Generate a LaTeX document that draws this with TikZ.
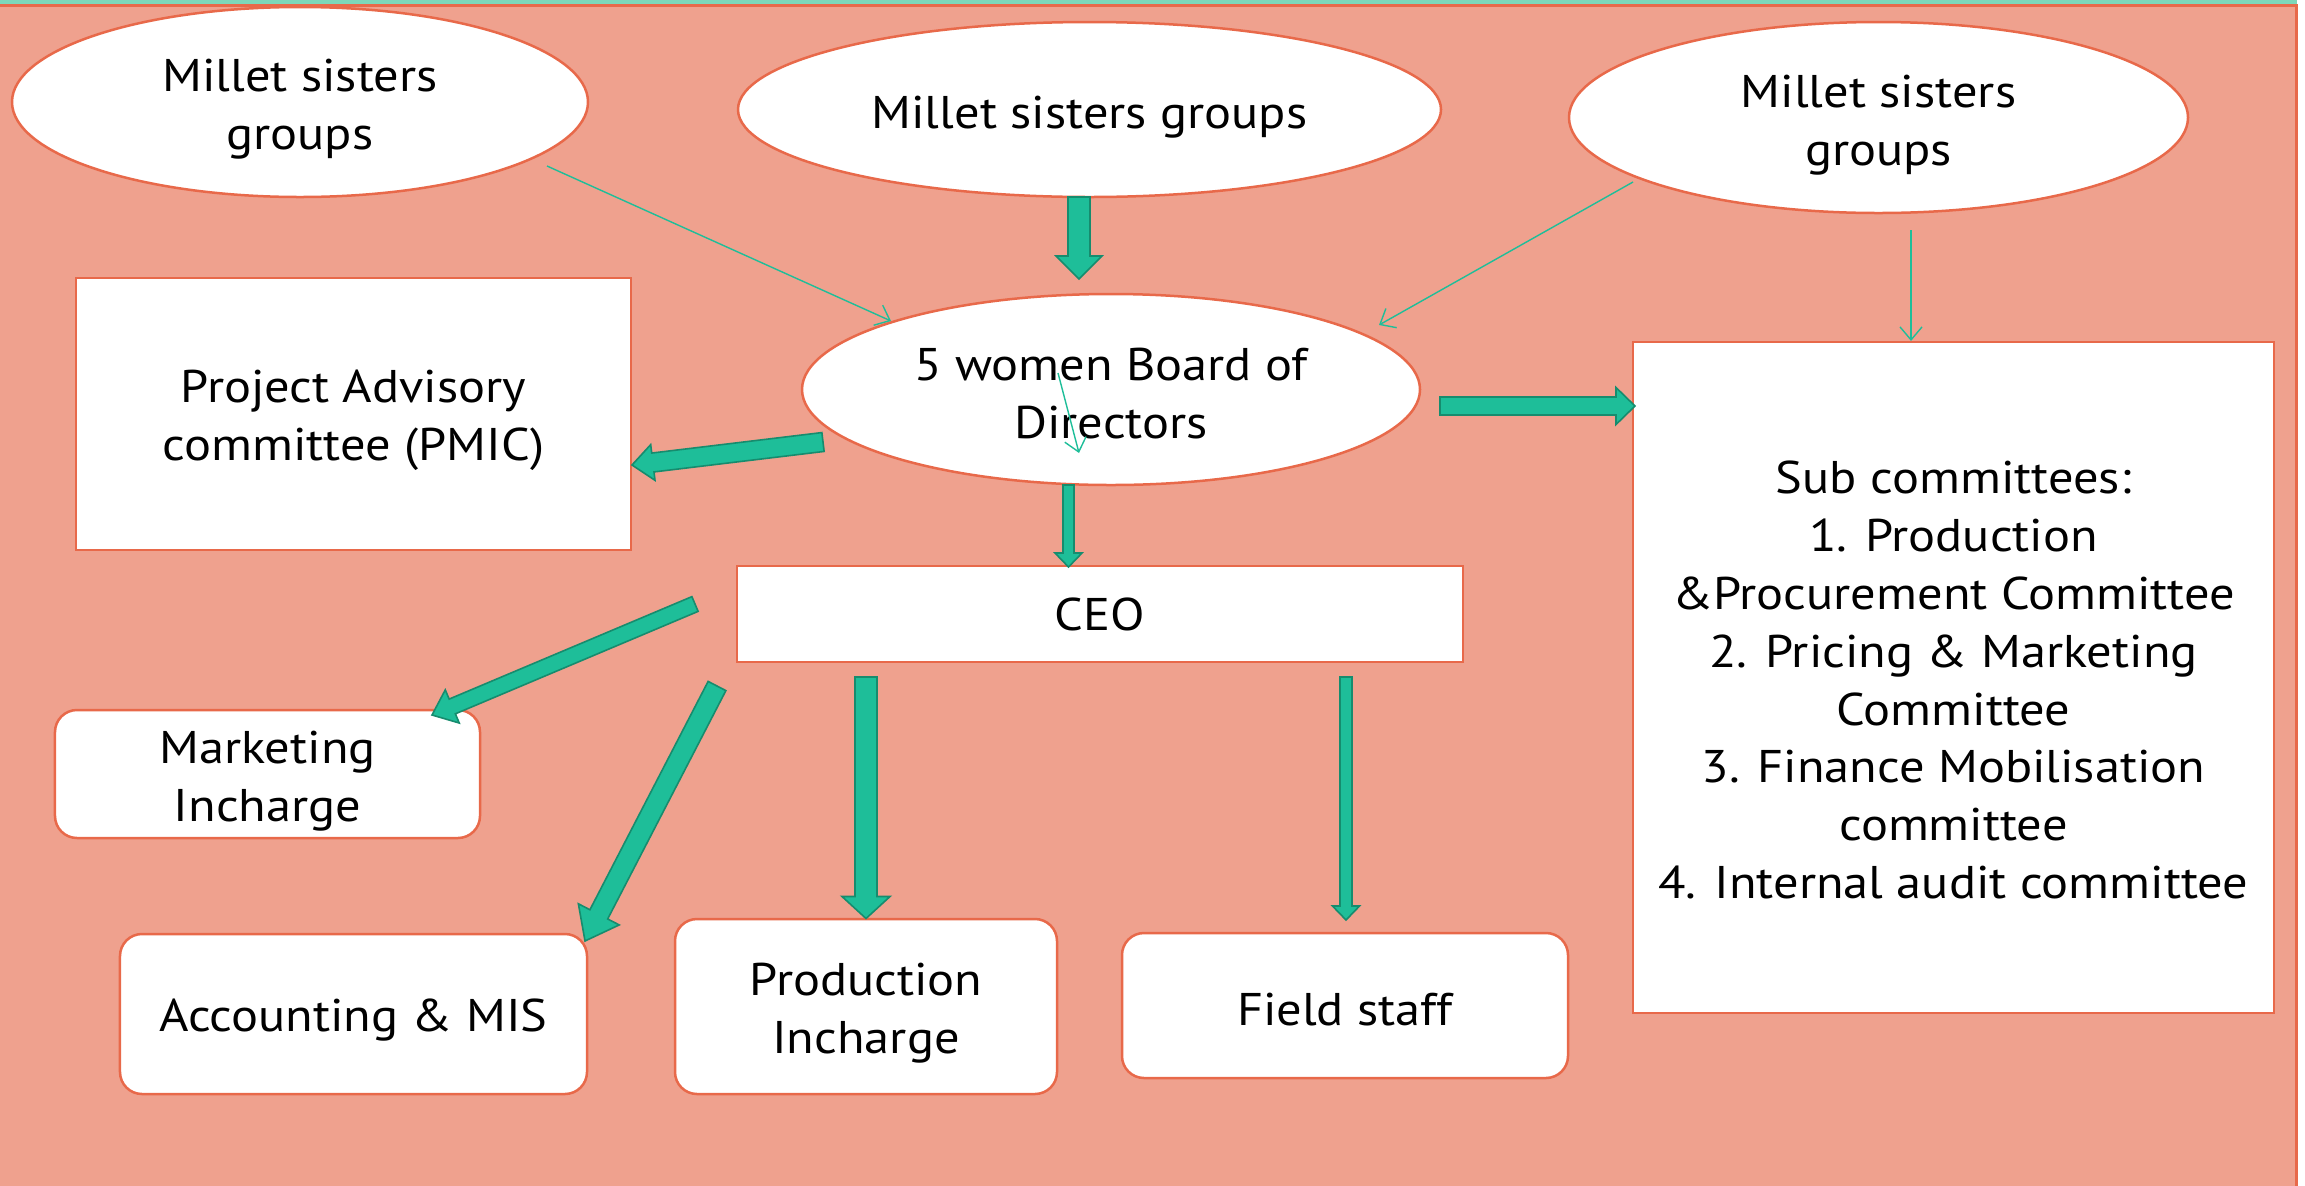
\documentclass[tikz,border=0pt]{standalone}
\usepackage{fontspec}
\setmainfont[FakeStretch=1.1]{PT Sans}
\usetikzlibrary{shapes.geometric,arrows.meta,calc}
\definecolor{salmon}{HTML}{EFA18E}
\definecolor{edgeor}{HTML}{E8694A}
\definecolor{arrfill}{HTML}{1EBE99}
\definecolor{arrline}{HTML}{168C6E}
\definecolor{topgreen}{HTML}{7DD7B9}
\newcommand\tstrut[1]{\rule{0pt}{#1bp}}
\tikzset{
  txt/.style={font=\fontsize{46}{58}\selectfont, align=center, text=black},
  ell/.style={txt, ellipse, draw=edgeor, fill=white, line width=2.5bp, inner sep=0pt},
  sqbox/.style={txt, rectangle, draw=edgeor, fill=white, line width=2.5bp, inner sep=0pt},
  rbox/.style={sqbox, rounded corners=22bp},
  thinarrow/.style={draw=arrfill, line width=1.4bp, -{Straight Barb[length=13bp,width=22bp,line width=1.4bp]}},
  blockstyle/.style={fill=arrfill, draw=arrline, line width=1.6bp, line join=miter}
}
\newcommand\blockarrow[5]{%
  \path let \p1=(#1), \p2=(#2), \n1={atan2(\y2-\y1,\x2-\x1)}, \n2={veclen(\x2-\x1,\y2-\y1)} in
    \pgfextra{\xdef\baangle{\n1}\xdef\balen{\n2}};
  \begin{scope}[shift={(#1)}, rotate=\baangle]
    \draw[blockstyle] (0bp,-#3bp) -- ({\balen-#5bp},-#3bp) -- ({\balen-#5bp},-#4bp)
      -- ({\balen},0bp) -- ({\balen-#5bp},#4bp) -- ({\balen-#5bp},#3bp) -- (0bp,#3bp) -- cycle;
  \end{scope}}
\begin{document}
\begin{tikzpicture}[x=1bp,y=-1bp]
\useasboundingbox (0,0) rectangle (2305,1185);
% background
\fill[white] (0,0) rectangle (2305,1185);
\fill[topgreen] (0,0) rectangle (2297,4.5);
\fill[salmon] (0,5.5) rectangle (2296,1190);
\draw[edgeor, line width=3bp] (-2,5.5) -- (2296,5.5) -- (2296,1190);

% nodes
\node[ell, minimum width=576bp, minimum height=190bp] (e1) at (300,102) {\tstrut{47}Millet sisters\\groups};
\node[ell, minimum width=703bp, minimum height=175bp] (e2) at (1089.5,109.5) {\tstrut{47}Millet sisters groups};
\node[ell, minimum width=619bp, minimum height=191bp] (e3) at (1878.5,117.5) {\tstrut{47}Millet sisters\\groups};
\node[ell, minimum width=618bp, minimum height=191bp] (bod) at (1111,389.5) {\tstrut{41}5 women Board of\\Directors};
\node[sqbox, minimum width=555bp, minimum height=272bp] (pmic) at (353.5,414) {\tstrut{45}Project Advisory\\committee (PMIC)};
\node[sqbox, minimum width=726bp, minimum height=96bp] (ceo) at (1100,614) {CEO};
\node[sqbox, minimum width=641bp, minimum height=671bp] (sub) at (1953.5,677.5) {\tstrut{38}Sub committees:\\1. Production\\\&Procurement Committee\\2. Pricing \& Marketing\\Committee\\3. Finance Mobilisation\\committee\\4. Internal audit committee};
\node[rbox, minimum width=425bp, minimum height=128bp] (mkt) at (267.5,774) {\tstrut{47}Marketing\\Incharge};
\node[rbox, minimum width=467bp, minimum height=160bp] (acc) at (353.5,1014) {\tstrut{45}Accounting \& MIS};
\node[rbox, minimum width=382bp, minimum height=175bp] (prod) at (866,1006.5) {\tstrut{45}Production\\Incharge};
\node[rbox, minimum width=446bp, minimum height=145bp] (field) at (1345,1005.5) {\tstrut{40}Field staff};

% thin connectors
\coordinate (a1s) at (547,166);   \coordinate (a1e) at (891,321);
\coordinate (a2s) at (1633,182);  \coordinate (a2e) at (1379,325);
\coordinate (a3s) at (1911,230);  \coordinate (a3e) at (1911,341);
\coordinate (a4s) at (1058,373);  \coordinate (a4e) at (1079,453);
\draw[thinarrow] (a1s) -- (a1e);
\draw[thinarrow] (a2s) -- (a2e);
\draw[thinarrow] (a3s) -- (a3e);
\draw[thinarrow] (a4s) -- (a4e);

% block connectors
\coordinate (b1s) at (1079,197);   \coordinate (b1e) at (1079,279);
\coordinate (b2s) at (823,442);    \coordinate (b2e) at (632,465);
\coordinate (b3s) at (1068.5,485); \coordinate (b3e) at (1068.5,567);
\coordinate (b4s) at (1440,406);   \coordinate (b4e) at (1635,406);
\coordinate (b5s) at (695,604);    \coordinate (b5e) at (432,715);
\coordinate (b6s) at (717,686);    \coordinate (b6e) at (585,941);
\coordinate (b7s) at (866,677);    \coordinate (b7e) at (866,918.5);
\coordinate (b8s) at (1346,677);   \coordinate (b8e) at (1346,920);
\blockarrow{b1s}{b1e}{11}{23}{23}
\blockarrow{b2s}{b2e}{9.5}{18}{21}
\blockarrow{b3s}{b3e}{5.5}{13.5}{14}
\blockarrow{b4s}{b4e}{9}{18.5}{19}
\blockarrow{b5s}{b5e}{8}{18}{22}
\blockarrow{b6s}{b6e}{10}{23}{30}
\blockarrow{b7s}{b7e}{11}{24}{22}
\blockarrow{b8s}{b8e}{6}{13.5}{14}
\end{tikzpicture}
\end{document}
